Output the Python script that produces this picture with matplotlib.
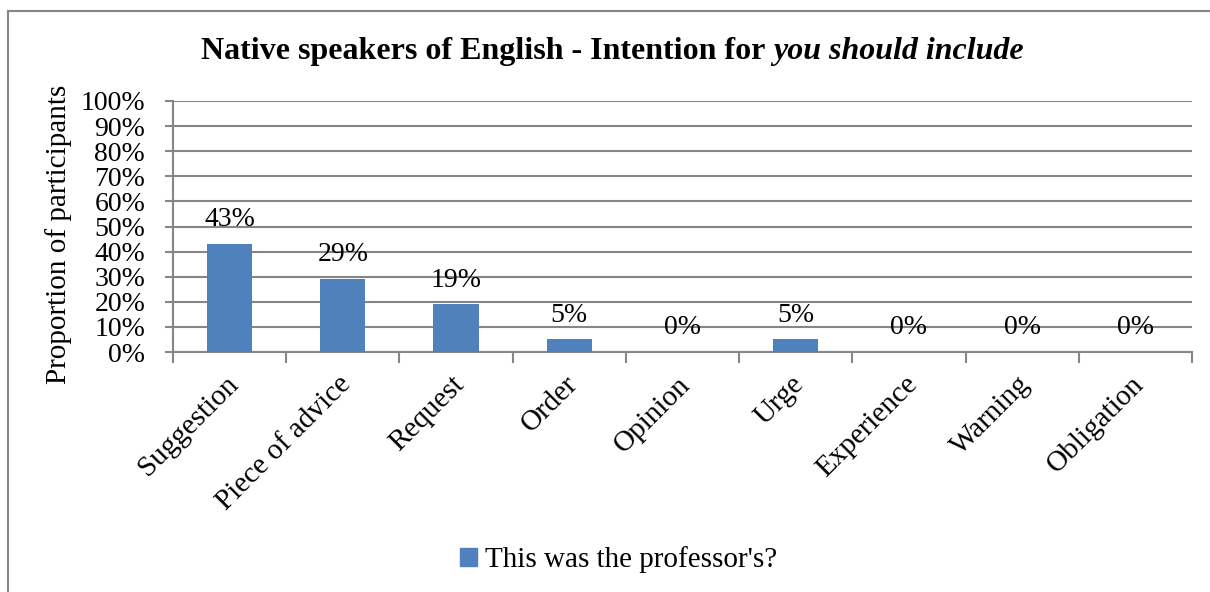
import matplotlib
matplotlib.use("Agg")
import matplotlib.pyplot as plt
from matplotlib.patches import Rectangle
from matplotlib.transforms import ScaledTranslation
import numpy as np

categories = ["Suggestion", "Piece of advice", "Request", "Order", "Opinion",
              "Urge", "Experience", "Warning", "Obligation"]
values = [43, 29, 19, 5, 0, 5, 0, 0, 0]
series_name = "This was the professor's?"

plt.rcParams['font.family'] = ['Liberation Serif', 'DejaVu Serif']

grid_col = "#868686"
bar_col = "#4F81BD"

fig = plt.figure(figsize=(12.1, 5.92), dpi=100)
ax = fig.add_axes([173/1210, 1-352/592, (1192-173)/1210, (352-101)/592])

x = np.arange(len(categories))
ax.bar(x, values, width=0.4, color=bar_col, zorder=3)

# data labels above each bar
for xi, v in zip(x, values):
    ax.annotate(f"{v}%", (xi, v), xytext=(0, 8.5), textcoords="offset points",
                ha="center", va="bottom", fontsize=20)

ax.set_xlim(-0.5, len(categories) - 0.5)
ax.set_ylim(0, 100)
ax.set_yticks(range(0, 101, 10))
ax.set_yticklabels([f"{t}%" for t in range(0, 101, 10)], fontsize=20)
ax.yaxis.grid(True, color=grid_col, linewidth=1.5, zorder=0)
ax.set_axisbelow(True)

# category ticks at the boundaries, labels at the centres
ax.set_xticks(np.arange(-0.5, len(categories)), minor=False)
ax.set_xticklabels([])
ax.set_xticks(x, minor=True)
ax.set_xticklabels(categories, minor=True, rotation=45, ha="right",
                   rotation_mode="anchor", fontsize=21)
ax.tick_params(axis="x", which="minor", length=0, pad=14)
ax.tick_params(axis="x", which="major", length=8, width=1.5, color=grid_col)
ax.tick_params(axis="y", length=6, width=1.5, color=grid_col, pad=14)

shift = ScaledTranslation(-5/100, 0, fig.dpi_scale_trans)
for lbl in ax.get_xticklabels(minor=True):
    lbl.set_transform(lbl.get_transform() + shift)

for s in ["top", "right"]:
    ax.spines[s].set_visible(False)
for s in ["left", "bottom"]:
    ax.spines[s].set_color(grid_col)
    ax.spines[s].set_linewidth(1.5)

ax.set_ylabel("Proportion of participants", fontsize=21)
ax.yaxis.set_label_coords(-0.099, 0.47)

# title: bold with the quoted phrase in bold italic
fig.text(773/1210, 1-52/592, "Native speakers of English - Intention for ",
         ha="right", va="center", fontsize=23, fontweight="bold")
fig.text(773/1210, 1-52/592, "you should include", ha="left", va="center",
         fontsize=23, fontweight="bold", style="italic")

handle = Rectangle((0, 0), 1, 1, color=bar_col)
fig.legend([handle], [series_name], loc="center", bbox_to_anchor=(619/1210, 1-560/592),
           frameon=False, fontsize=21, handlelength=0.55, handleheight=0.55,
           handletextpad=0.3)

# chart area border
fig.patches.append(Rectangle((8/1210, -0.1), 2, 1.1 - 11/592, transform=fig.transFigure,
                             fill=False, edgecolor=grid_col, linewidth=1.5))

fig.savefig("out.png", dpi=100)
